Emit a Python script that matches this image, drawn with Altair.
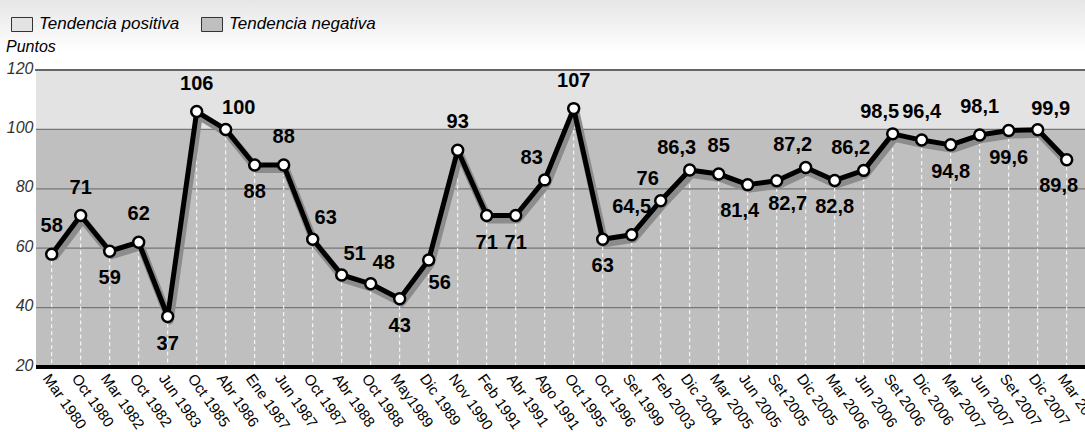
import json
import altair as alt
import pandas as pd

periods = ["Mar 1980", "Oct 1980", "Mar 1982", "Oct 1982", "Jun 1983", "Oct 1985",
           "Abr 1986", "Ene 1987", "Jun 1987", "Oct 1987", "Abr 1988", "Oct 1988",
           "May1989", "Dic 1989", "Nov 1990", "Feb 1991", "Abr 1991", "Ago 1991",
           "Oct 1995", "Oct 1996", "Set 1999", "Feb 2003", "Dic 2004", "Mar 2005",
           "Jun 2005", "Set 2005", "Dic 2005", "Mar 2006", "Jun 2006", "Set 2006",
           "Dic 2006", "Mar 2007", "Jun 2007", "Set 2007", "Dic 2007", "Mar 2008"]
values = [58, 71, 59, 62, 37, 106, 100, 88, 88, 63, 51, 48, 43, 56, 93, 71, 71, 83,
          107, 63, 64.5, 76, 86.3, 85, 81.4, 82.7, 87.2, 82.8, 86.2, 98.5, 96.4, 94.8,
          98.1, 99.6, 99.9, 89.8]
# label side relative to its point (n = above, s = below, ne/nw/se/sw = diagonal)
placement = ["n", "n", "s", "n", "s", "n", "ne", "s", "n", "ne", "ne", "ne", "s", "se",
             "n", "s", "s", "nw", "n", "s", "n", "nw", "nw", "n", "sw", "se", "nw", "s",
             "nw", "nw", "n", "s", "n", "s", "ne", "sw"]
y_ticks = [20, 40, 60, 80, 100, 120]
y_title = "Puntos"
band_names = ["Tendencia positiva", "Tendencia negativa"]
band_low = [100, 20]
band_high = [120, 100]
band_colors = ["#e3e3e3", "#bfbfbf"]


def fmt(v):
    return str(int(v)) if float(v).is_integer() else str(v).replace(".", ",")


df = pd.DataFrame({
    "idx": list(range(len(periods))),
    "period": periods,
    "value": values,
    "text": [fmt(v) for v in values],
    "place": placement,
})
bands = pd.DataFrame({"name": band_names, "lo": band_low, "hi": band_high})
grid = pd.DataFrame({"v": [t for t in y_ticks if t not in (20, 120)]})

W, H = 1049, 297
FONT = "Liberation Sans"

xscale = alt.Scale(domain=[-0.541, 35.631], nice=False, zero=False)
yscale = alt.Scale(domain=[20, 120], nice=False, zero=False)

xaxis = alt.Axis(values=list(range(len(periods))),
                 labelExpr=f"{json.dumps(periods)}[datum.value]",
                 labelAngle=55, labelAlign="left", labelBaseline="top",
                 labelFont=FONT, labelFontSize=15, labelColor="#000000",
                 labelPadding=4, ticks=False, domain=False, grid=False,
                 labelOverlap=False, labelFlush=False, title=None)
yaxis = alt.Axis(values=y_ticks, title=None,
                 labelFont=FONT, labelFontSize=16, labelFontStyle="italic",
                 labelColor="#333333", labelPadding=3, labelBaseline="alphabetic",
                 labelOffset=3, labelFlush=False, ticks=False, domain=False, grid=False)


def X(f):
    return alt.X(f, scale=xscale, axis=xaxis)


def Y(f):
    return alt.Y(f, scale=yscale, axis=yaxis)


top_grad = alt.Chart(bands).mark_rect(
    fill=alt.Gradient(gradient="linear", x1=0, x2=0, y1=0, y2=1,
                      stops=[alt.GradientStop(color="#e6e6e8", offset=0),
                             alt.GradientStop(color="#ffffff", offset=1)])
).encode(x=alt.value(-36), x2=alt.value(W), y=alt.value(-70), y2=alt.value(-18))

title_text = alt.Chart(bands).transform_filter(alt.datum.lo == 20).mark_text(
    font=FONT, fontSize=16, fontStyle="italic", color="#000000",
    align="left", baseline="alphabetic"
).encode(x=alt.value(-30), y=alt.value(-18), text=alt.value(y_title))

band_layer = alt.Chart(bands).mark_rect().encode(
    x=alt.value(0), x2=alt.value(W),
    y=Y("lo:Q"), y2="hi:Q",
    fill=alt.Fill("name:N", scale=alt.Scale(domain=band_names, range=band_colors),
                  legend=alt.Legend(orient="none", legendX=-25, legendY=-57,
                                    direction="horizontal", title=None,
                                    symbolType="M-1,-0.667H1V0.667H-1Z", symbolSize=441,
                                    symbolStrokeColor="#333333", symbolStrokeWidth=1,
                                    symbolOpacity=1,
                                    labelFont=FONT, labelFontSize=17,
                                    labelFontStyle="italic", labelColor="#000000",
                                    labelOffset=6, columnPadding=19, padding=0)),
)

grid_layer = alt.Chart(grid).mark_rule(color="#777777", strokeWidth=1.3).encode(
    y=Y("v:Q"), x=alt.value(0), x2=alt.value(W))
top_rule = alt.Chart(bands).mark_rule(color="#666666", strokeWidth=2).encode(
    y=alt.datum(120), x=alt.value(-1), x2=alt.value(W))

drops = alt.Chart(df).mark_rule(color="white", strokeWidth=1, strokeDash=[4, 3]).encode(
    x=X("idx:Q"), y=Y("value:Q"), y2=alt.datum(20))

shadow = alt.Chart(df).mark_line(color="#8c8c8c", strokeWidth=8, xOffset=2, yOffset=4,
                                 strokeJoin="round").encode(x=X("idx:Q"), y=Y("value:Q"))
line = alt.Chart(df).mark_line(color="#000000", strokeWidth=5, strokeJoin="round").encode(
    x=X("idx:Q"), y=Y("value:Q"))
points = alt.Chart(df).mark_point(filled=False, fill="white", fillOpacity=1,
                                  stroke="#000000", strokeWidth=2.5, size=120,
                                  opacity=1, shape="circle").encode(
    x=X("idx:Q"), y=Y("value:Q"))

offsets = {"n": (0, -28), "s": (0, 27), "ne": (13, -21), "nw": (-13, -22),
           "se": (11, 23), "sw": (-8, 26)}
text_layers = []
for code, (dx, dy) in offsets.items():
    text_layers.append(
        alt.Chart(df).transform_filter(alt.datum.place == code).mark_text(
            font=FONT, fontSize=20, fontWeight="bold", color="#000000",
            dx=dx, dy=dy, align="center", baseline="middle"
        ).encode(x=X("idx:Q"), y=Y("value:Q"), text="text:N")
    )

bottom_rule = alt.Chart(bands).mark_rule(color="#000000", strokeWidth=4).encode(
    y=alt.datum(20), x=alt.value(0), x2=alt.value(W))

chart = alt.layer(top_grad, title_text, band_layer, grid_layer, top_rule, drops, shadow,
                  line, points, *text_layers, bottom_rule).properties(
    width=W, height=H,
    autosize=alt.AutoSizeParams(type="none"),
    padding={"left": 36, "top": 70, "right": 0, "bottom": 65},
    background="white",
).configure_view(stroke=None)

chart.save("out.html", embed_options={"renderer": "svg", "actions": False})
